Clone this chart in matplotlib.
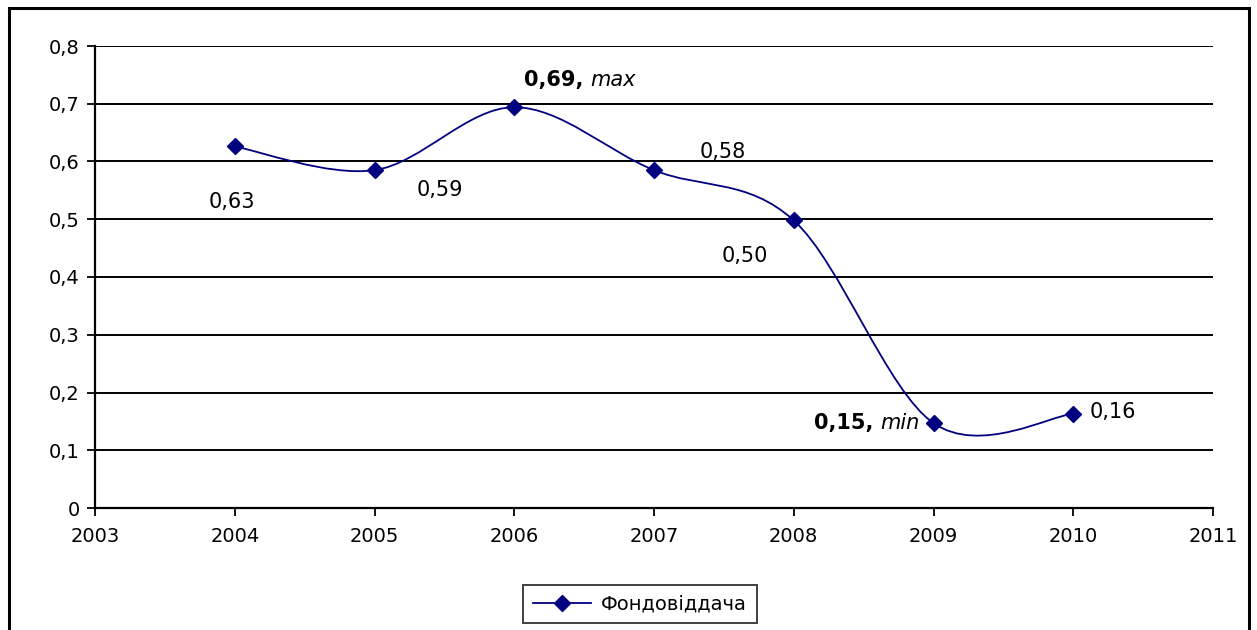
import numpy as np
import matplotlib
matplotlib.use("Agg")
import matplotlib.pyplot as plt
from matplotlib.path import Path
from matplotlib.patches import PathPatch, Rectangle
from matplotlib.lines import Line2D

plt.rcParams['font.family'] = ['DejaVu Sans']

# дані: фондовіддача по роках
years = [2004, 2005, 2006, 2007, 2008, 2009, 2010]
fondovid = [0.626, 0.585, 0.694, 0.585, 0.498, 0.147, 0.163]
labels = ['0,63', '0,59', '0,69', '0,58', '0,50', '0,15', '0,16']
series_name = 'Фондовіддача'
navy = '#000080'

fig = plt.figure(figsize=(12.57, 6.30), dpi=100)
ax = fig.add_axes([95/1257, 122/630, (1213-95)/1257, 462/630])

# згладжена лінія як у Excel (кубічні криві Безьє)
x = np.array(years, dtype=float)
y = np.array(fondovid)
pts = np.column_stack([x, y])
verts = [tuple(pts[0])]
codes = [Path.MOVETO]
n = len(pts)
for i in range(n - 1):
    p0 = pts[max(i - 1, 0)]
    p1 = pts[i]
    p2 = pts[i + 1]
    p3 = pts[min(i + 2, n - 1)]
    c1 = p1 + (p2 - p0) / 6
    c2 = p2 - (p3 - p1) / 6
    verts += [tuple(c1), tuple(c2), tuple(p2)]
    codes += [Path.CURVE4] * 3
ax.add_patch(PathPatch(Path(verts, codes), facecolor='none', edgecolor=navy, lw=1.3, zorder=3))
ax.plot(years, fondovid, linestyle='none', marker='D', markersize=8.5, color=navy, zorder=4)

ax.set_xlim(2003, 2011)
ax.set_ylim(0, 0.8)
ax.set_xticks(range(2003, 2012))
ax.set_yticks(np.arange(0, 0.81, 0.1))
ax.set_yticklabels(['0'] + ['0,%d' % k for k in range(1, 9)])
ax.tick_params(labelsize=14, length=6, width=1.3, color='black')
ax.tick_params(axis='x', pad=8)
ax.tick_params(axis='y', pad=5)
ax.grid(axis='y', color='black', lw=1.4)
ax.set_axisbelow(True)
for s in ['top', 'right']:
    ax.spines[s].set_visible(False)
for s in ['left', 'bottom']:
    ax.spines[s].set_linewidth(1.6)

fs = 15
ax.text(2003.98, 0.53, labels[0], fontsize=fs, ha='center', va='center')
ax.text(2005.47, 0.551, labels[1], fontsize=fs, ha='center', va='center')
t_max = ax.text(2006.07, 0.741, labels[2] + ', ', fontsize=fs, fontweight='bold', ha='left', va='center')
ax.annotate('max', xy=(1, 0), xycoords=t_max, fontsize=fs, style='italic', ha='left', va='bottom')
ax.text(2007.49, 0.616, labels[3], fontsize=fs, ha='center', va='center')
ax.text(2007.65, 0.436, labels[4], fontsize=fs, ha='center', va='center')
t_min = ax.text(2008.90, 0.147, 'min', fontsize=fs, style='italic', ha='right', va='center')
ax.annotate(labels[5] + ', ', xy=(0, 0), xycoords=t_min, fontsize=fs, fontweight='bold',
            ha='right', va='bottom')
ax.text(2010.12, 0.166, labels[6], fontsize=fs, ha='left', va='center')

handle = Line2D([], [], color=navy, lw=1.3, marker='D', markersize=8.5)
leg = fig.legend([handle], [series_name], loc='center', bbox_to_anchor=(640/1257, 26/630),
                 fontsize=14, frameon=True, fancybox=False, edgecolor='black',
                 handlelength=3, borderpad=0.5, handletextpad=0.5)
leg.get_frame().set_linewidth(1.3)

# рамка навколо діаграми
fig.patches.append(Rectangle((9/1257, -0.02), 1240/1257, 1 - 8/630 + 0.02,
                             transform=fig.transFigure, fill=False, edgecolor='black', lw=2.2))

plt.savefig('out.png', dpi=100)
